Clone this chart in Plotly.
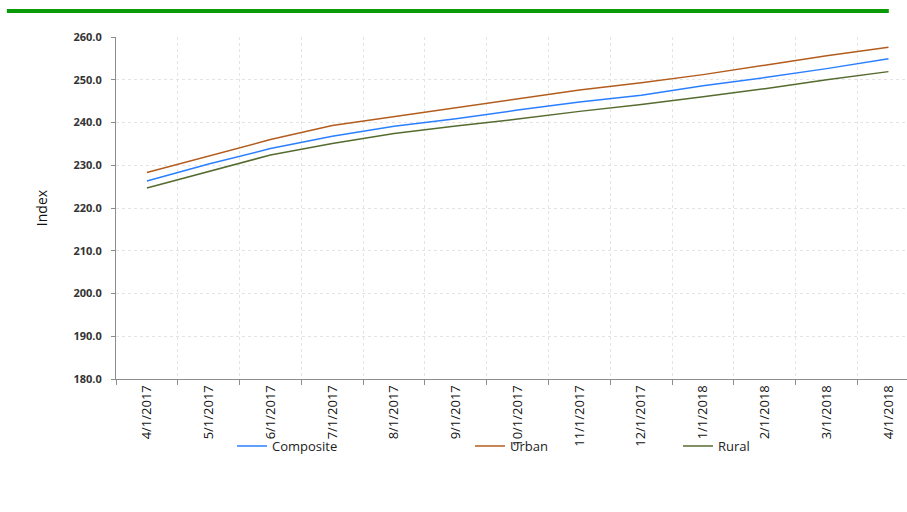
import plotly.graph_objects as go

# Monthly index values, April 2017 - April 2018
dates = ["4/1/2017", "5/1/2017", "6/1/2017", "7/1/2017", "8/1/2017", "9/1/2017",
         "10/1/2017", "11/1/2017", "12/1/2017", "1/1/2018", "2/1/2018", "3/1/2018",
         "4/1/2018"]
composite = [226.3, 230.3, 233.9, 236.8, 239.1, 240.9, 242.9, 244.8, 246.4,
             248.6, 250.5, 252.6, 254.9]
urban = [228.3, 232.2, 236.0, 239.3, 241.4, 243.4, 245.5, 247.6, 249.3,
         251.2, 253.4, 255.6, 257.6]
rural = [224.7, 228.6, 232.4, 235.1, 237.4, 239.2, 240.8, 242.6, 244.2,
         246.0, 247.9, 250.0, 251.9]

y_ticks = [180, 190, 200, 210, 220, 230, 240, 250, 260]

FONT = "Open Sans"

fig = go.Figure()
fig.add_trace(go.Scatter(x=dates, y=composite, mode="lines", name="Composite",
                         line=dict(color="#2a7fff", width=1.5), legend="legend"))
fig.add_trace(go.Scatter(x=dates, y=urban, mode="lines", name="Urban",
                         line=dict(color="#b35c1e", width=1.5), legend="legend2"))
fig.add_trace(go.Scatter(x=dates, y=rural, mode="lines", name="Rural",
                         line=dict(color="#556b2f", width=1.5), legend="legend3"))

legend_common = dict(orientation="h", yanchor="middle", y=-0.196, xanchor="left",
                     bgcolor="rgba(0,0,0,0)", borderwidth=0,
                     font=dict(family=FONT, size=13, color="#222"))

fig.update_layout(
    width=907, height=512,
    margin=dict(l=116, r=0, t=37, b=133),
    paper_bgcolor="white", plot_bgcolor="white",
    font=dict(family=FONT, color="#222"),
    showlegend=True,
    legend=dict(x=0.1467, **legend_common),
    legend2=dict(x=0.4475, **legend_common),
    legend3=dict(x=0.7105, **legend_common),
    xaxis=dict(
        type="category", range=[-0.5, 12.3], tickson="boundaries",
        tickangle=-90, tickfont=dict(family=FONT, size=13, color="#111"),
        showline=True, linecolor="#8c8c8c", linewidth=1,
        ticks="outside", ticklen=5, tickcolor="#8c8c8c",
        showgrid=True, gridcolor="#e4e4e4", griddash="dot", gridwidth=1,
        zeroline=False,
    ),
    yaxis=dict(
        range=[180, 260], tickvals=y_ticks, tickformat=".1f",
        tickfont=dict(family=FONT, size=11, color="#333", weight="bold"),
        ticklabelstandoff=7,
        showline=True, linecolor="#8c8c8c", linewidth=1,
        ticks="outside", ticklen=4, tickcolor="#8c8c8c",
        showgrid=True, gridcolor="#e4e4e4", griddash="dot", gridwidth=1,
        zeroline=False,
        title=dict(text="Index", font=dict(family=FONT, size=14, color="#111"),
                   standoff=22),
    ),
    shapes=[dict(type="line", xref="paper", yref="paper",
                 x0=-0.138, x1=0.977, y0=1.076, y1=1.076,
                 line=dict(color="#0a9a0a", width=4))],
)

fig.write_html("out.html")
